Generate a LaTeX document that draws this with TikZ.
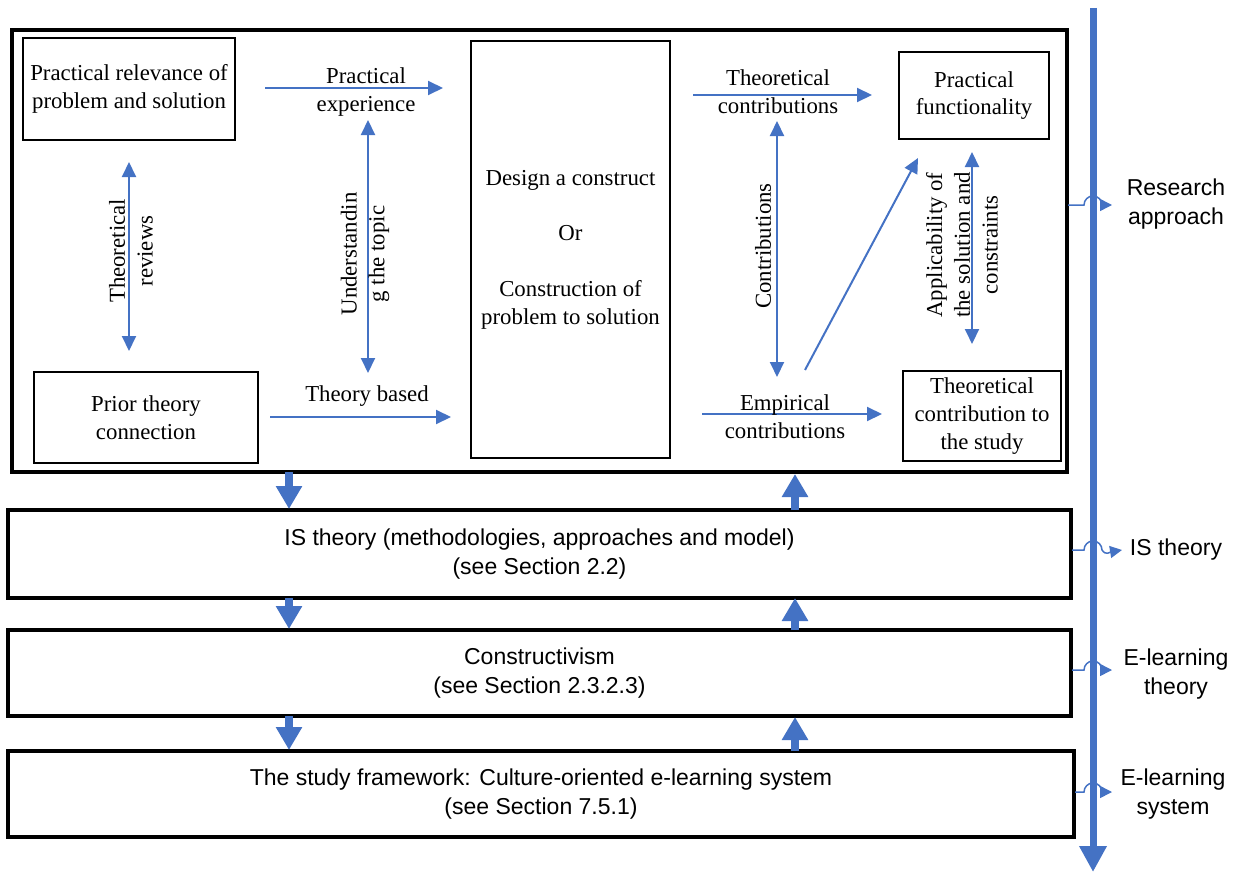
\documentclass[tikz,border=0pt]{standalone}
\usepackage{fontspec}
\setmainfont{Liberation Serif}
\setsansfont{Liberation Sans}
\usetikzlibrary{arrows.meta}

\definecolor{flow}{HTML}{4472C4}

\begin{document}
\begin{tikzpicture}[x=1pt,y=-1pt,
  serif/.style={font=\fontsize{22.8}{27.8}\selectfont, align=center, inner sep=0pt},
  sans/.style={font=\sffamily\fontsize{23}{28.8}\selectfont, align=center, inner sep=0pt},
  innerbox/.style={draw, line width=2pt, inner sep=0pt},
  layerbox/.style={draw, line width=4pt, inner sep=0pt},
  oneway/.style={flow, line width=2pt, -{Triangle[length=15pt,width=14pt]}},
  twoway/.style={flow, line width=2pt, {Triangle[length=15pt,width=14pt]}-{Triangle[length=15pt,width=14pt]}},
  block/.style={flow, line width=8pt, -{Triangle[length=23pt,width=25pt]}},
  hopline/.style={flow, line width=1.5pt, -{Triangle[length=12pt,width=12pt]}},
]
\useasboundingbox (0,0) rectangle (1238,872);

% research approach frame and its boxes
\node[layerbox, minimum width=1055pt, minimum height=442pt] (outer) at (539.5,251) {};
\node[innerbox, serif, minimum width=212pt, minimum height=102pt] (prac) at (129,89)
  {Practical relevance of\\problem and solution};
\node[innerbox, serif, minimum width=224pt, minimum height=91pt] (prior) at (146,417.5)
  {Prior theory\\connection};
\node[innerbox, serif, minimum width=199pt, minimum height=417pt] (design) at (570.5,249.5)
  {Design a construct\\[27.8pt]Or\\[27.8pt]Construction of\\problem to solution};
\node[innerbox, serif, minimum width=150pt, minimum height=87pt] (func) at (974,95.5)
  {Practical\\functionality};
\node[innerbox, serif, minimum width=158pt, minimum height=90pt] (tcs) at (982,416)
  {Theoretical\\contribution to\\the study};

% layers below
\node[layerbox, sans, minimum width=1063pt, minimum height=88pt] (is) at (539.5,554)
  {IS theory (methodologies, approaches and model)\\(see Section 2.2)};
\node[layerbox, sans, minimum width=1063pt, minimum height=86pt] (cons) at (539.5,673)
  {Constructivism\\(see Section 2.3.2.3)};
\node[layerbox, sans, minimum width=1066pt, minimum height=86pt] (frame) at (541,794)
  {The study framework: Culture-oriented e-learning system\\(see Section 7.5.1)};

% thin connector end points
\coordinate (peA) at (265,88);   \coordinate (peB) at (443,88);
\coordinate (tbA) at (270,417);  \coordinate (tbB) at (451,417);
\coordinate (tcA) at (693,95);   \coordinate (tcB) at (872,95);
\coordinate (ecA) at (702,414);  \coordinate (ecB) at (882,414);
\coordinate (trA) at (129,162);  \coordinate (trB) at (129,351);
\coordinate (utA) at (368,120);  \coordinate (utB) at (368,373);
\coordinate (coA) at (777,121);  \coordinate (coB) at (777,377);
\coordinate (dgA) at (805,370);  \coordinate (dgB) at (918,158);
\coordinate (apA) at (972,152);  \coordinate (apB) at (972,344);

\draw[oneway] (peA) -- (peB);
\draw[oneway] (tbA) -- (tbB);
\draw[oneway] (tcA) -- (tcB);
\draw[oneway] (ecA) -- (ecB);
\draw[oneway] (dgA) -- (dgB);
\draw[twoway] (trA) -- (trB);
\draw[twoway] (utA) -- (utB);
\draw[twoway] (coA) -- (coB);
\draw[twoway] (apA) -- (apB);

% connector labels
\node[serif] (peL) at (366,92) {Practical\\experience};
\node[serif] (tbL) at (367,396) {Theory based};
\node[serif] (tcL) at (778,92) {Theoretical\\contributions};
\node[serif] (ecL) at (785,417) {Empirical\\contributions};
\node[serif, rotate=90] (trL) at (131,251) {Theoretical\\reviews};
\node[serif, rotate=90] (utL) at (365,254) {Understandin\\g the topic};
\node[serif, rotate=90] (coL) at (763,246) {Contributions};
\node[serif, rotate=90] (apL) at (962,245) {Applicability of\\the solution and\\constraints};

% block arrows between layers
\coordinate (dA1) at (289,472); \coordinate (dB1) at (289,509);
\coordinate (dA2) at (289,598); \coordinate (dB2) at (289,629);
\coordinate (dA3) at (289,716); \coordinate (dB3) at (289,750);
\coordinate (uA1) at (795,510); \coordinate (uB1) at (795,474);
\coordinate (uA2) at (795,630); \coordinate (uB2) at (795,598);
\coordinate (uA3) at (795,751); \coordinate (uB3) at (795,717);
\foreach \i in {1,2,3} {
  \draw[block] (dA\i) -- (dB\i);
  \draw[block] (uA\i) -- (uB\i);
}

% level spine on the right
\coordinate (spTop) at (1093,8);
\coordinate (spEnd) at (1093,872);
\draw[flow, line width=7pt, -{Triangle[length=26pt,width=26pt]}] (spTop) -- (spEnd);

% hops from each level to its label
\coordinate (hA) at (1068,205);
\coordinate (hB) at (1072,550);
\coordinate (hC) at (1072,670);
\coordinate (hD) at (1075,792);
\draw[hopline] (hA) -- (1084,205) arc[start angle=180, end angle=360, radius=9] -- ++(10,0);
\draw[hopline] (hB) -- (1084,550) arc[start angle=180, end angle=360, radius=9]
  .. controls (1106,556) and (1110,552) .. (1122,550);
\draw[hopline] (hC) -- (1084,670) arc[start angle=180, end angle=360, radius=9] -- ++(10,0);
\draw[hopline] (hD) -- (1084,792) arc[start angle=180, end angle=360, radius=9] -- ++(10,0);

\node[sans] (lvA) at (1176,204) {Research\\approach};
\node[sans] (lvB) at (1176,550) {IS theory};
\node[sans] (lvC) at (1176,674) {E-learning\\theory};
\node[sans] (lvD) at (1173,794) {E-learning\\system};
\end{tikzpicture}
\end{document}
